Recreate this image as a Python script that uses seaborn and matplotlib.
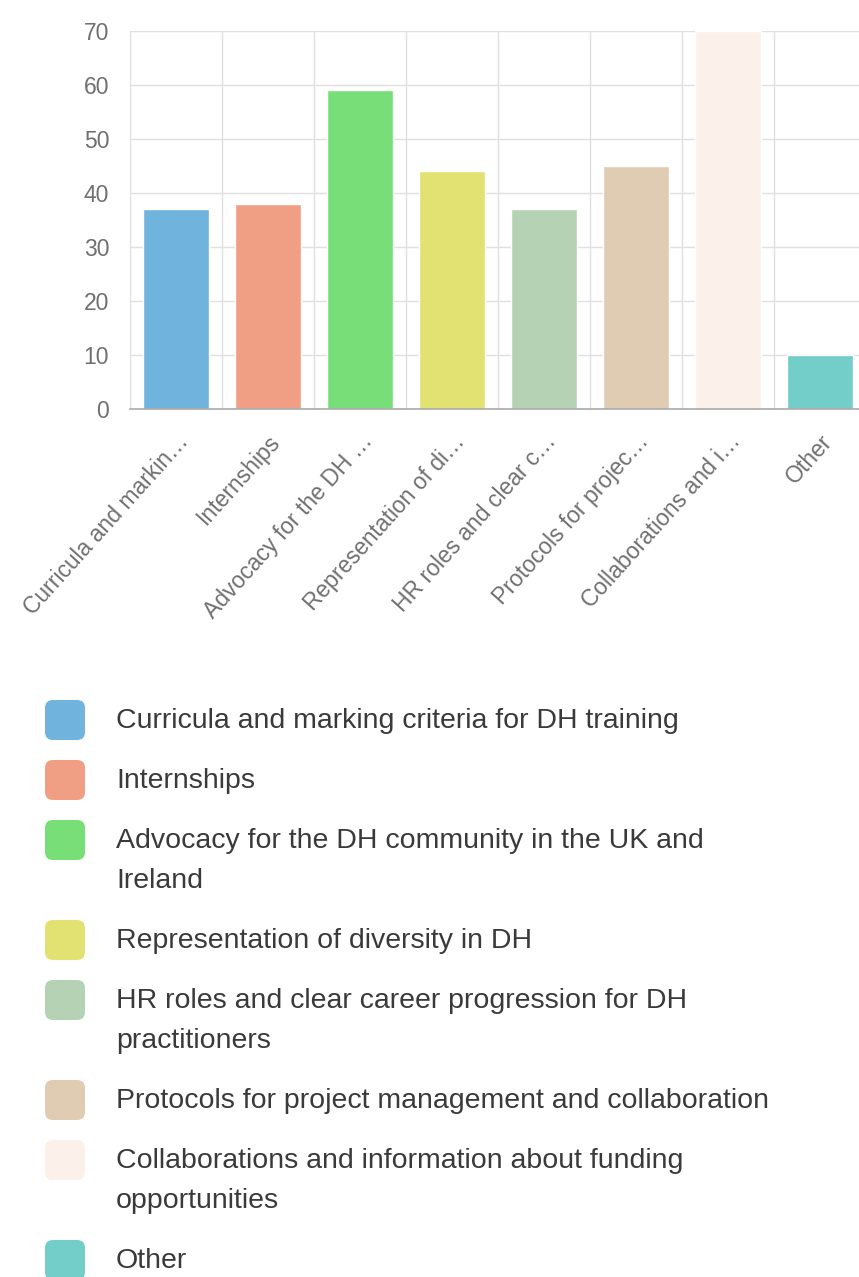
import matplotlib
matplotlib.use("Agg")
import matplotlib.pyplot as plt
import seaborn as sns
from matplotlib.patches import FancyBboxPatch

# data
categories = [
    "Curricula and marking criteria for DH training",
    "Internships",
    "Advocacy for the DH community in the UK and Ireland",
    "Representation of diversity in DH",
    "HR roles and clear career progression for DH practitioners",
    "Protocols for project management and collaboration",
    "Collaborations and information about funding opportunities",
    "Other",
]
counts = [37, 38, 59, 44, 37, 45, 70, 10]
colors = ["#70b3dd", "#f09f85", "#78df78", "#e2e273",
          "#b5d3b4", "#dfccb2", "#fcf0eb", "#73cdc8"]
legend_lines = [
    ["Curricula and marking criteria for DH training"],
    ["Internships"],
    ["Advocacy for the DH community in the UK and", "Ireland"],
    ["Representation of diversity in DH"],
    ["HR roles and clear career progression for DH", "practitioners"],
    ["Protocols for project management and collaboration"],
    ["Collaborations and information about funding", "opportunities"],
    ["Other"],
]
y_ticks = [0, 10, 20, 30, 40, 50, 60, 70]

# truncated tick labels like the original
short = [c if len(c) <= 20 else c[:20] + "\u2026" for c in categories]

sns.set_theme(style="white")
plt.rcParams["font.family"] = ["Liberation Sans", "DejaVu Sans"]

W, H = 859, 1277
fig = plt.figure(figsize=(W / 100, H / 100), dpi=100)

# background axes in pixel coords for the legend
lax = fig.add_axes([0, 0, 1, 1])
lax.set_xlim(0, W)
lax.set_ylim(H, 0)
lax.axis("off")

ax = fig.add_axes([130 / W, (H - 409) / H, 736 / W, 378 / H])
ax.set_facecolor("none")

sns.barplot(x=short, y=counts, hue=short, palette=colors, legend=False,
            width=0.72, saturation=1, ax=ax, zorder=3)

ax.set_ylim(0, 70)
ax.set_xlim(-0.5, len(categories) - 0.5)
ax.set_yticks(y_ticks)
ax.set_xlabel("")
ax.set_ylabel("")

# grid lines at category boundaries, like chart.js offset grid
ax.set_xticks([i - 0.5 for i in range(len(categories) + 1)], minor=True)
ax.grid(True, axis="y", color="#e0e0e0", linewidth=1, zorder=0)
ax.grid(True, axis="x", which="minor", color="#e0e0e0", linewidth=1, zorder=0)
ax.tick_params(axis="x", which="minor", length=14, color="#e0e0e0", width=1)
ax.tick_params(axis="x", which="major", length=0, pad=15)
ax.tick_params(axis="y", length=13, color="#e0e0e0", width=1, pad=2,
               labelsize=16.5, labelcolor="#707070")
ax.set_xticks(range(len(categories)))
ax.set_xticklabels(short, rotation=48, ha="right", rotation_mode="anchor",
                   fontsize=16.5, color="#707070")

for s in ["top", "right", "left"]:
    ax.spines[s].set_visible(False)
ax.spines["bottom"].set_color("#aaaaaa")
ax.spines["bottom"].set_linewidth(1.2)
ax.spines["bottom"].set_zorder(4)

# custom legend below the chart
y = 720
for lines, col in zip(legend_lines, colors):
    lax.add_patch(FancyBboxPatch((45, y - 20), 40, 40,
                                 boxstyle="round,pad=0,rounding_size=8",
                                 facecolor=col, edgecolor="none"))
    for k, line in enumerate(lines):
        lax.text(116, y + 40 * k + 1, line, va="center", ha="left",
                 fontsize=20.5, color="#3a3a3a")
    y += 60 + 40 * (len(lines) - 1)

fig.savefig("out.png", dpi=100)
